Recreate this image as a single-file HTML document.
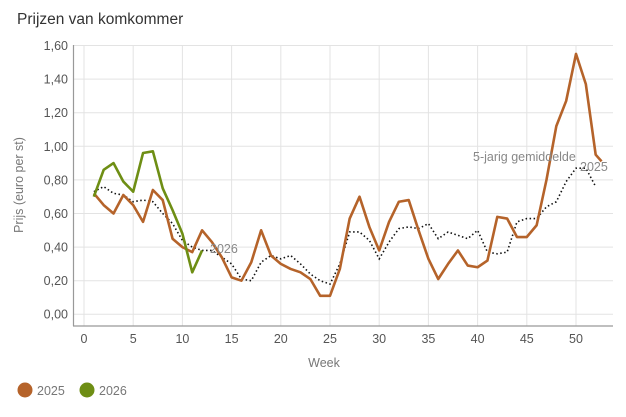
<!DOCTYPE html>
<html><head><meta charset="utf-8"><style>
html,body{margin:0;padding:0;background:#fff;}
svg{display:block;font-family:"Liberation Sans",sans-serif;}
</style></head><body>
<svg width="626" height="417" viewBox="0 0 626 417">
<text x="17" y="24" font-size="15.5" fill="#333">Prijzen van komkommer</text>
<g stroke="#e3e3e3" stroke-width="1">
<line x1="73" x2="613" y1="314.3" y2="314.3"/><line x1="73" x2="613" y1="280.7" y2="280.7"/>
<line x1="73" x2="613" y1="247.1" y2="247.1"/><line x1="73" x2="613" y1="213.5" y2="213.5"/>
<line x1="73" x2="613" y1="179.9" y2="179.9"/><line x1="73" x2="613" y1="146.3" y2="146.3"/>
<line x1="73" x2="613" y1="112.7" y2="112.7"/><line x1="73" x2="613" y1="79.1" y2="79.1"/>
<line x1="73" x2="613" y1="45.5" y2="45.5"/>
<line x1="84" x2="84" y1="45" y2="326"/><line x1="133.2" x2="133.2" y1="45" y2="326"/>
<line x1="182.4" x2="182.4" y1="45" y2="326"/><line x1="231.6" x2="231.6" y1="45" y2="326"/>
<line x1="280.8" x2="280.8" y1="45" y2="326"/><line x1="330" x2="330" y1="45" y2="326"/>
<line x1="379.2" x2="379.2" y1="45" y2="326"/><line x1="428.4" x2="428.4" y1="45" y2="326"/>
<line x1="477.6" x2="477.6" y1="45" y2="326"/><line x1="526.8" x2="526.8" y1="45" y2="326"/>
<line x1="576" x2="576" y1="45" y2="326"/>
</g>
<g stroke="#999" stroke-width="1.2"><line x1="73.5" x2="73.5" y1="45" y2="326"/><line x1="73" x2="613" y1="326" y2="326"/></g>
<g font-size="12.5" fill="#555" text-anchor="end">
<text x="68" y="318.5">0,00</text><text x="68" y="285">0,20</text><text x="68" y="251.5">0,40</text>
<text x="68" y="218">0,60</text><text x="68" y="184.5">0,80</text><text x="68" y="151">1,00</text>
<text x="68" y="117">1,20</text><text x="68" y="83.5">1,40</text><text x="68" y="50">1,60</text>
</g>
<g font-size="12.5" fill="#555" text-anchor="middle">
<text x="84" y="343">0</text><text x="133.2" y="343">5</text><text x="182.4" y="343">10</text>
<text x="231.6" y="343">15</text><text x="280.8" y="343">20</text><text x="330" y="343">25</text>
<text x="379.2" y="343">30</text><text x="428.4" y="343">35</text><text x="477.6" y="343">40</text>
<text x="526.8" y="343">45</text><text x="576" y="343">50</text>
<text x="324" y="367" fill="#777">Week</text>
</g>
<text transform="translate(23,185) rotate(-90)" font-size="12.5" fill="#777" text-anchor="middle">Prijs (euro per st)</text>
<g transform="translate(84,314.3) scale(9.84,-168)" fill="none">
<polyline vector-effect="non-scaling-stroke" stroke="#111" stroke-width="1.6" stroke-dasharray="1.5,2.5" points="1,0.73 2,0.76 3,0.72 4,0.71 5,0.67 6,0.68 7,0.67 8,0.60 9,0.54 10,0.44 11,0.40 12,0.38 13,0.38 14,0.34 15,0.30 16,0.21 17,0.20 18,0.31 19,0.35 20,0.33 21,0.35 22,0.30 23,0.24 24,0.20 25,0.18 26,0.30 27,0.49 28,0.49 29,0.44 30,0.33 31,0.43 32,0.51 33,0.52 34,0.51 35,0.54 36,0.45 37,0.49 38,0.47 39,0.45 40,0.50 41,0.37 42,0.36 43,0.37 44,0.55 45,0.57 46,0.57 47,0.64 48,0.67 49,0.79 50,0.87 51,0.87 52,0.76"/>
<polyline vector-effect="non-scaling-stroke" stroke="#b5632a" stroke-width="2.6" stroke-linejoin="round" points="1,0.72 2,0.65 3,0.60 4,0.71 5,0.65 6,0.55 7,0.74 8,0.68 9,0.45 10,0.40 11,0.37 12,0.50 13,0.43 14,0.34 15,0.22 16,0.20 17,0.31 18,0.50 19,0.35 20,0.30 21,0.27 22,0.25 23,0.21 24,0.11 25,0.11 26,0.27 27,0.57 28,0.70 29,0.52 30,0.38 31,0.55 32,0.67 33,0.68 34,0.50 35,0.33 36,0.21 37,0.30 38,0.38 39,0.29 40,0.28 41,0.32 42,0.58 43,0.57 44,0.46 45,0.46 46,0.53 47,0.80 48,1.12 49,1.27 50,1.55 51,1.37 52,0.95 52.6,0.91"/>
<polyline vector-effect="non-scaling-stroke" stroke="#6e8e14" stroke-width="2.6" stroke-linejoin="round" points="1,0.70 2,0.86 3,0.90 4,0.79 5,0.73 6,0.96 7,0.97 8,0.75 9,0.62 10,0.48 11,0.25 12,0.38"/>
</g>
<g font-size="12.5" fill="#888">
<text x="210" y="253">2026</text>
<text x="473" y="161">5-jarig gemiddelde</text>
<text x="580" y="171">2025</text>
</g>
<circle cx="25" cy="390" r="7.5" fill="#b5632a"/>
<text x="37" y="395" font-size="12.5" fill="#777">2025</text>
<circle cx="87" cy="390" r="7.5" fill="#6e8e14"/>
<text x="99" y="395" font-size="12.5" fill="#777">2026</text>
</svg>
</body></html>
